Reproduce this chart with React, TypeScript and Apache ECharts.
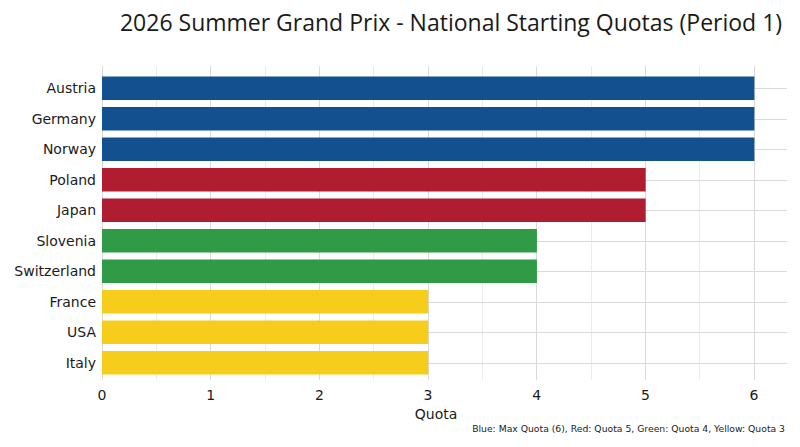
import { useEffect, useRef } from 'react';
import * as echarts from 'echarts';

const countries = ['Austria', 'Germany', 'Norway', 'Poland', 'Japan', 'Slovenia', 'Switzerland', 'France', 'USA', 'Italy'];
const quotas = [6, 6, 6, 5, 5, 4, 4, 3, 3, 3];
const quotaLevels = [6, 5, 4, 3];
const levelColors = ['#12508f', '#b01d31', '#2f9b47', '#f5cd1a'];
const xTicks = [0, 1, 2, 3, 4, 5, 6];

const TITLE = '2026 Summer Grand Prix - National Starting Quotas (Period 1)';
const CAPTION = 'Blue: Max Quota (6), Red: Quota 5, Green: Quota 4, Yellow: Quota 3';

export default function App() {
  const chartRef = useRef<HTMLDivElement>(null);

  useEffect(() => {
    if (!chartRef.current) return;
    document.body.style.margin = '0';
    const chart = echarts.init(chartRef.current, null, { renderer: 'svg' });

    const colorFor = (q: number) => levelColors[quotaLevels.indexOf(q)];
    const tickMax = xTicks[xTicks.length - 1];
    const xMax = tickMax * 1.05;
    const textColor = '#1a1a1a';

    const option: echarts.EChartsOption = {
      animation: false,
      backgroundColor: '#ffffff',
      title: {
        text: TITLE,
        left: 446,
        top: 5,
        textAlign: 'center',
        textStyle: { fontFamily: 'Open Sans', fontWeight: 'normal', fontSize: 23, color: textColor },
      },
      graphic: [
        {
          type: 'text',
          right: 15,
          top: 424,
          style: { text: CAPTION, fontFamily: 'DejaVu Sans', fontSize: 9.25, fill: textColor },
        },
      ],
      grid: [
        // bars (x expanded 5% on the right, like ggplot)
        { left: 102, right: 13, top: 73, height: 305 },
        // panel for vertical gridlines, 0..6
        { left: 102, right: 46, top: 66, height: 314 },
      ],
      xAxis: [
        {
          type: 'value',
          gridIndex: 0,
          min: 0,
          max: xMax,
          show: false,
          splitLine: { show: false },
        },
        {
          type: 'value',
          gridIndex: 1,
          min: 0,
          max: tickMax,
          interval: 1,
          axisLine: { show: false },
          axisTick: { show: false },
          axisLabel: {
            fontFamily: 'DejaVu Sans',
            fontSize: 14,
            color: textColor,
            margin: 8,
          },
          splitLine: { show: true, lineStyle: { color: '#dadada', width: 1 } },
          minorTick: { show: false, splitNumber: 2 },
          minorSplitLine: { show: true, lineStyle: { color: '#ececec', width: 1 } },
          name: 'Quota',
          nameLocation: 'middle',
          nameGap: 25,
          nameTextStyle: { fontFamily: 'DejaVu Sans', fontSize: 14, color: textColor, padding: [0, 0, 0, 16] },
        },
      ],
      yAxis: [
        {
          type: 'category',
          gridIndex: 0,
          data: countries,
          inverse: true,
          axisLine: { show: false },
          axisTick: { show: false },
          splitLine: { show: false },
          axisLabel: { fontFamily: 'DejaVu Sans', fontSize: 14, color: textColor, margin: 6 },
        },
        {
          type: 'value',
          gridIndex: 1,
          show: false,
          splitLine: { show: false },
        },
      ],
      series: [
        {
          type: 'bar',
          xAxisIndex: 0,
          yAxisIndex: 0,
          z: 2,
          barCategoryGap: '23%',
          data: quotas.map((q) => ({ value: q, itemStyle: { color: colorFor(q) } })),
          markLine: {
            z: 1,
            silent: true,
            symbol: 'none',
            label: { show: false },
            lineStyle: { type: 'solid', color: '#dadada', width: 1 },
            data: countries.map((c) => ({ yAxis: c })),
          },
        },
      ],
    };

    chart.setOption(option);
    return () => chart.dispose();
  }, []);

  return <div ref={chartRef} style={{ width: 800, height: 447 }} />;
}
